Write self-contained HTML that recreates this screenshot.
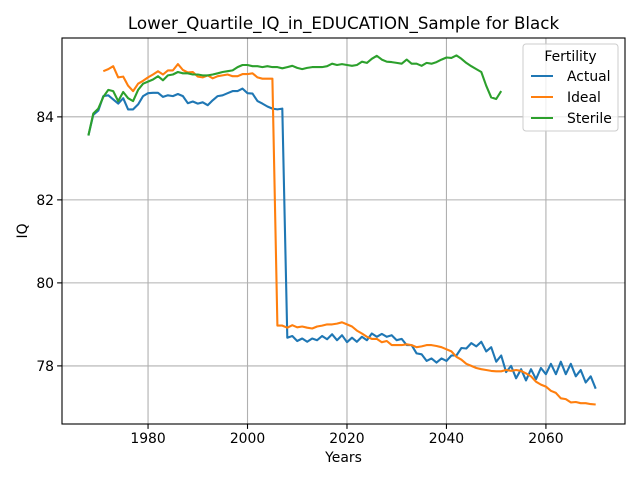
<!DOCTYPE html>
<html><head><meta charset="utf-8"><style>
body{margin:0;background:#fff;font-family:"Liberation Sans","DejaVu Sans",sans-serif;}
svg text{font-family:"DejaVu Sans","Liberation Sans",sans-serif;}
</style></head><body>
<svg id="chart" width="640" height="480" viewBox="0 0 640 480">
<rect width="640" height="480" fill="#fff"/>
<text x="343.5" y="29" text-anchor="middle" font-size="16.7">Lower_Quartile_IQ_in_EDUCATION_Sample for Black</text>
<g id="grid"></g>
<g id="series"></g>
<rect x="62" y="38" width="563" height="386" fill="none" stroke="#000" stroke-width="1.1"/>
<g id="axes"></g>
<text x="343.5" y="462" text-anchor="middle" font-size="13.9">Years</text>
<text transform="translate(27,231) rotate(-90)" text-anchor="middle" font-size="13.9">IQ</text>
<g id="legend">
<rect x="523" y="44" width="95" height="87" rx="3" fill="#fff" fill-opacity="0.8" stroke="#ccc"/>
<text x="570.5" y="61" text-anchor="middle" font-size="13.9">Fertility</text>
<g><line x1="531" y1="76" x2="553" y2="76" stroke="#1f77b4" stroke-width="2.1"/><text x="567" y="81" font-size="13.9">Actual</text></g>
<g><line x1="531" y1="97" x2="553" y2="97" stroke="#ff7f0e" stroke-width="2.1"/><text x="567" y="102" font-size="13.9">Ideal</text></g>
<g><line x1="531" y1="118" x2="553" y2="118" stroke="#2ca02c" stroke-width="2.1"/><text x="567" y="123" font-size="13.9">Sterile</text></g>
</g>
</svg>
<script>
const xTicks=[1980,2000,2020,2040,2060];
const yTicks=[78,80,82,84];
const actualStart=1968;
const actualValues=[83.55,84.05,84.15,84.5,84.52,84.42,84.32,84.45,84.18,84.18,84.3,84.5,84.57,84.58,84.58,84.48,84.52,84.5,84.55,84.5,84.33,84.37,84.32,84.35,84.28,84.4,84.5,84.52,84.57,84.62,84.62,84.68,84.57,84.56,84.38,84.32,84.25,84.2,84.18,84.2,
78.68,78.72,78.6,78.66,78.58,78.66,78.62,78.72,78.64,78.76,78.62,78.74,78.57,78.68,78.58,78.7,78.62,78.78,78.7,78.77,78.7,78.74,78.62,78.65,78.5,78.5,78.3,78.28,78.12,78.18,78.08,78.18,78.12,78.25,78.25,78.43,78.42,78.55,78.47,78.58,78.35,78.45,78.1,78.25,77.85,78.0,77.7,77.92,77.65,77.92,77.68,77.95,77.8,78.05,77.8,78.1,77.8,78.05,77.75,77.9,77.6,77.75,77.45];
const idealStart=1971;
const idealValues=[85.1,85.15,85.22,84.95,84.97,84.75,84.62,84.8,84.87,84.95,85.02,85.1,85.02,85.12,85.12,85.27,85.13,85.07,85.08,84.97,84.95,85.0,84.93,84.98,85.0,85.02,84.98,84.98,85.03,85.03,85.05,84.95,84.92,84.92,84.92,
78.97,78.97,78.92,78.98,78.93,78.95,78.92,78.9,78.95,78.97,79.0,79.0,79.02,79.05,79.0,78.95,78.85,78.78,78.7,78.65,78.65,78.57,78.6,78.5,78.5,78.5,78.52,78.5,78.45,78.47,78.5,78.5,78.48,78.45,78.4,78.35,78.22,78.15,78.05,78.0,77.95,77.92,77.9,77.88,77.87,77.87,77.9,77.88,77.9,77.88,77.82,77.75,77.62,77.55,77.5,77.4,77.35,77.22,77.2,77.12,77.13,77.1,77.1,77.08,77.07];
const sterileStart=1968;
const sterileValues=[83.55,84.08,84.2,84.48,84.65,84.62,84.38,84.6,84.45,84.38,84.65,84.8,84.85,84.9,84.98,84.88,85.0,85.02,85.08,85.05,85.05,85.02,85.02,85.0,85.0,85.02,85.05,85.08,85.1,85.12,85.2,85.25,85.25,85.22,85.22,85.2,85.22,85.2,85.2,85.17,85.2,85.23,85.18,85.15,85.18,85.2,85.2,85.2,85.22,85.28,85.25,85.27,85.25,85.23,85.25,85.33,85.3,85.4,85.47,85.38,85.33,85.32,85.3,85.28,85.38,85.28,85.28,85.23,85.3,85.28,85.32,85.38,85.43,85.42,85.48,85.4,85.3,85.22,85.15,85.08,84.75,84.47,84.43,84.62];

const X0=62,X1=625,Y0=38,Y1=424;
const xMin=1962.7,xMax=2075.9,yMin=76.6,yMax=85.9;
function xs(v){return X0+(v-xMin)/(xMax-xMin)*(X1-X0);}
function ys(v){return Y1-(v-yMin)/(yMax-yMin)*(Y1-Y0);}
const NS='http://www.w3.org/2000/svg';
const grid=document.getElementById('grid'),axes=document.getElementById('axes'),ser=document.getElementById('series');
function mk(tag,attrs,parent){const e=document.createElementNS(NS,tag);for(const k in attrs)e.setAttribute(k,attrs[k]);parent.appendChild(e);return e;}
xTicks.forEach(t=>{
  const g=mk('line',{x1:xs(t),x2:xs(t),y1:Y0,y2:Y1,stroke:'#b0b0b0','stroke-width':1.1},grid);
  
  
  mk('line',{x1:xs(t),x2:xs(t),y1:Y1,y2:Y1+4.9,stroke:'#000','stroke-width':1.1},axes);
  const tx=mk('text',{x:xs(t),y:Y1+19,'text-anchor':'middle','font-size':13.9},axes);
  tx.textContent=t;
  
  
});
yTicks.forEach(t=>{
  const g=mk('line',{x1:X0,x2:X1,y1:ys(t),y2:ys(t),stroke:'#b0b0b0','stroke-width':1.1},grid);
  
  
  mk('line',{x1:X0-4.9,x2:X0,y1:ys(t),y2:ys(t),stroke:'#000','stroke-width':1.1},axes);
  const tx=mk('text',{x:X0-8,y:ys(t)+5,'text-anchor':'end','font-size':13.9},axes);
  tx.textContent=t;
  
  
});
function line(start,vals,color,name){
  const pts=vals.map((v,i)=>xs(start+i).toFixed(1)+','+ys(v).toFixed(1)).join(' ');
  const p=mk('polyline',{points:pts,fill:'none',stroke:color,'stroke-width':2.1,'stroke-linejoin':'round'},ser);
  
  
}
line(actualStart,actualValues,'#1f77b4','actual-line');
line(idealStart,idealValues,'#ff7f0e','ideal-line');
line(sterileStart,sterileValues,'#2ca02c','sterile-line');
</script>
</body></html>
